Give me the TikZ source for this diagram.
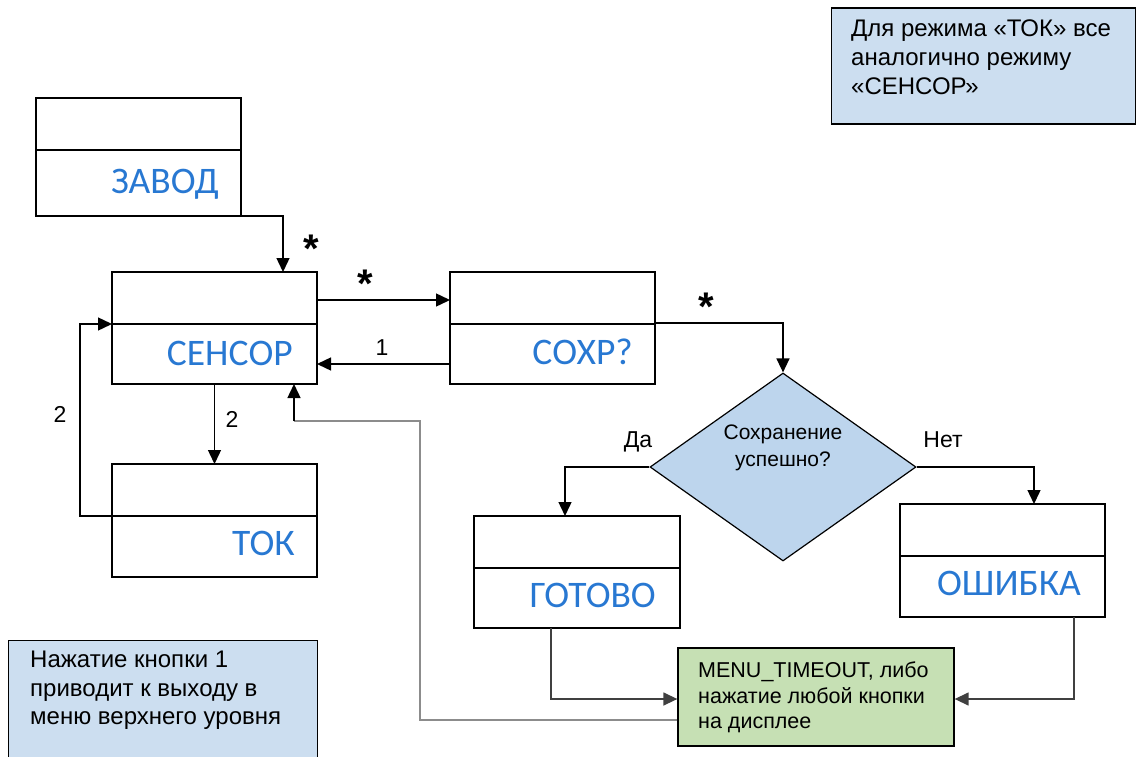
\documentclass[tikz,border=0pt]{standalone}
\usepackage{fontspec}
\setmainfont{Liberation Sans}
\newfontfamily\titlefont{Carlito}
\usetikzlibrary{arrows.meta,shapes.geometric,calc}
\definecolor{titleblue}{RGB}{40,120,210}
\definecolor{noteblue}{RGB}{204,222,240}
\definecolor{diamblue}{RGB}{189,213,237}
\definecolor{notegreen}{RGB}{198,224,180}
\definecolor{darkline}{RGB}{64,64,64}
\definecolor{grayline}{RGB}{140,140,140}
\tikzset{
  umlbox/.style={draw, line width=1.3pt, rectangle, inner sep=0pt, outer sep=0pt,
    minimum width=205pt, minimum height=112pt,
    path picture={\draw[line width=1.3pt] ([yshift=-52pt]path picture bounding box.north west) -- ([yshift=-52pt]path picture bounding box.north east);}},
  boxtitle/.style={anchor=base east, inner sep=0pt, text=titleblue, font=\titlefont\fontsize{37.5}{40}\selectfont},
  arr/.style={draw, line width=1.4pt, -{Triangle[length=14pt,width=13pt]}},
  lbl/.style={anchor=base, inner sep=0pt, font=\fontsize{23}{27}\selectfont},
  star/.style={anchor=north, inner sep=0pt, font=\bfseries\fontsize{40}{40}\selectfont},
  notetext/.style={anchor=north west, inner sep=0pt, align=left},
}
\begin{document}
\begin{tikzpicture}[x=1pt,y=-1pt]
\useasboundingbox (0,0) rectangle (1137,757);

% notes
\node[draw, line width=1.2pt, fill=noteblue, minimum width=304pt, minimum height=116pt, inner sep=0pt] (noteTR) at (983.5,66) {};
\node[notetext, font=\fontsize{24}{29}\selectfont] (noteTRt) at (851,20) {Для режима «ТОК» все\\аналогично режиму\\«СЕНСОР»};

\node[fill=noteblue, minimum width=308pt, minimum height=116pt, inner sep=0pt] (noteBL) at (163,699) {};
\draw[line width=1.2pt] (noteBL.south west) -- (noteBL.north west) -- (noteBL.north east) -- (noteBL.south east);
\node[notetext, font=\fontsize{24}{28.5}\selectfont] (noteBLt) at (30,651) {Нажатие кнопки 1\\приводит к выходу в\\меню верхнего уровня};

% state boxes
\node[umlbox, minimum height=118pt] (zavod) at (138.5,157) {};
\node[boxtitle] (zavodT) at ($(zavod.south east)+(-22,-23)$) {ЗАВОД};
\node[umlbox] (sensor) at (214.5,328) {};
\node[boxtitle] (sensorT) at ($(sensor.south east)+(-24,-19)$) {СЕНСОР};
\node[umlbox] (soxr) at (552.5,328) {};
\node[boxtitle] (soxrT) at ($(soxr.south east)+(-22,-20)$) {СОХР?};
\node[umlbox, minimum height=113pt] (tok) at (214.5,520.5) {};
\node[boxtitle] (tokT) at ($(tok.south east)+(-22,-22)$) {ТОК};
\node[umlbox, minimum width=206pt] (gotovo) at (577,572) {};
\node[boxtitle] (gotovoT) at ($(gotovo.south east)+(-24,-21)$) {ГОТОВО};
\node[umlbox, minimum height=113pt] (oshibka) at (1002.5,560.5) {};
\node[boxtitle] (oshibkaT) at ($(oshibka.south east)+(-24,-22)$) {ОШИБКА};

% decision
\node[diamond, draw, line width=1.2pt, fill=diamblue, minimum width=266pt, minimum height=188pt, inner sep=0pt] (dec) at (783,467) {};
\node[align=center, inner sep=0pt, anchor=north, font=\fontsize{21}{27}\selectfont] (decT) at (783,425) {Сохранение\\успешно?};

% green box
\node[draw, line width=1.3pt, fill=notegreen, minimum width=276pt, minimum height=98pt, inner sep=0pt] (green) at (816,697) {};
\node[notetext, font=\fontsize{21.5}{25.5}\selectfont] (greenT) at (698,662) {MENU\_TIMEOUT, либо\\нажатие любой кнопки\\на дисплее};

% connectors
\draw[arr] (zavod.south east) -| ([xshift=68.5pt]sensor.north);
\draw[arr] ([yshift=-28pt]sensor.north east) -- ([yshift=-28pt]soxr.north west);
\draw[arr] ([yshift=20pt]soxr.south west) -- ([yshift=20pt]sensor.south east);
\draw[arr] ([yshift=-51pt]soxr.north east) -| (dec.north);
\draw[arr] (dec.west) -| ([xshift=-12pt]gotovo.north);
\draw[arr] (dec.east) -| ([xshift=31.5pt]oshibka.north);
\draw[arr, draw=darkline] ([xshift=-26pt]gotovo.south) |- ([yshift=-2pt]green.west);
\draw[arr, draw=darkline] ([xshift=71.5pt]oshibka.south) |- ([yshift=-2pt]green.east);
\draw[arr] (sensor.south) -- (tok.north);
\draw[arr] ([yshift=-52pt]tok.north west) -- ++(-32,0) |- ([yshift=-52pt]sensor.north west);
\coordinate (c1) at (420,421);
\coordinate (c2) at (294,421);
\draw[line width=2pt, draw=grayline] ([yshift=-23pt]green.west) -| (c1) -- (c2);
\draw[arr] (c2) -- ([xshift=79.5pt]sensor.south);

% labels
\node[star] (s1) at (311,235) {*};
\node[star] (s2) at (365,270) {*};
\node[star] (s3) at (706,293) {*};
\node[lbl] (l1) at (382,355) {1};
\node[lbl] (l2a) at (60,422) {2};
\node[lbl] (l2b) at (232,427) {2};
\node[lbl] (lda) at (638,447) {Да};
\node[lbl] (lnet) at (943,447) {Нет};
\end{tikzpicture}
\end{document}
